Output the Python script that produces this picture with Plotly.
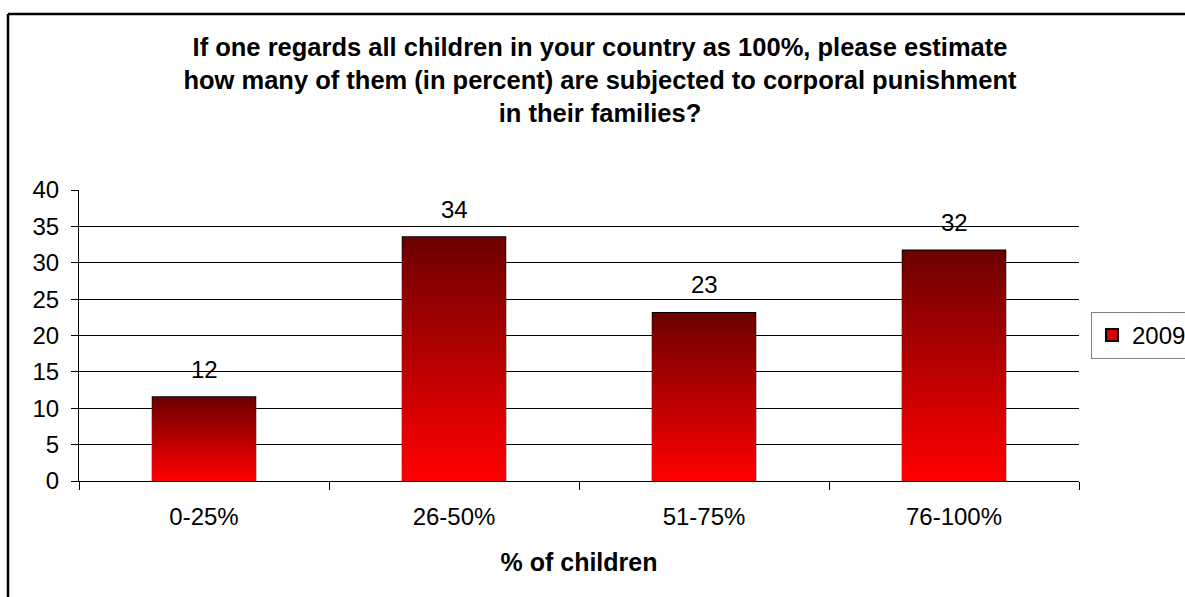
import plotly.graph_objects as go

categories = ["0-25%", "26-50%", "51-75%", "76-100%"]
values = [11.5, 33.5, 23.1, 31.7]
labels = ["12", "34", "23", "32"]
series_name = "2009"

title_text = ("If one regards all children in your country as 100%, please estimate<br>"
              "how many of them (in percent) are subjected to corporal punishment<br>"
              "in their families?")

FONT = "Liberation Sans, Arial, sans-serif"
N = 60
top_rgb = (110, 0, 0)
bot_rgb = (255, 0, 0)

fig = go.Figure()

# outline / legend trace (underneath)
fig.add_trace(go.Bar(
    x=categories, y=values, name=series_name,
    marker=dict(color="#e00000", line=dict(color="black", width=2)),
    width=0.41, hoverinfo="skip", showlegend=True,
))

# gradient layers: full height dark at top, progressively shorter and brighter
for k in range(N):
    t = k / (N - 1)
    r = round(top_rgb[0] + (bot_rgb[0] - top_rgb[0]) * t)
    frac = 1 - k / N
    fig.add_trace(go.Bar(
        x=categories, y=[v * frac for v in values],
        marker=dict(color=f"rgb({r},0,0)", line=dict(width=0)),
        width=0.41, hoverinfo="skip", showlegend=False,
    ))

for c, v, lab in zip(categories, values, labels):
    fig.add_annotation(x=c, y=v, text=lab, showarrow=False, yshift=28,
                       yanchor="middle", font=dict(family=FONT, size=24, color="black"))

fig.update_layout(
    width=1185, height=597,
    barmode="overlay",
    paper_bgcolor="white", plot_bgcolor="white",
    margin=dict(l=79, r=106, t=190, b=116, autoexpand=False),
    font=dict(family=FONT, size=24, color="black"),
    title=dict(text=title_text, x=600 / 1185, xanchor="center", xref="container",
               y=1 - 56 / 597, yref="container", yanchor="middle",
               font=dict(family=FONT, size=25.5, color="black", weight="bold")),
    showlegend=True,
    legend=dict(x=1.012, y=0.5, xanchor="left", yanchor="middle",
                bordercolor="#808080", borderwidth=1, bgcolor="white",
                font=dict(family=FONT, size=24, color="black"),
                itemwidth=30),
    xaxis=dict(type="category", showline=True, linecolor="black", linewidth=1,
               ticks="outside", ticklen=8, tickcolor="black", tickson="boundaries",
               showgrid=False, tickfont=dict(size=24), ticklabelstandoff=14,
               title=dict(text="% of children", standoff=24,
                          font=dict(family=FONT, size=25, weight="bold"))),
    yaxis=dict(range=[0, 40], dtick=5, showline=True, linecolor="black", linewidth=1,
               ticks="outside", ticklen=7, tickcolor="black",
               showgrid=True, gridcolor="black", gridwidth=1,
               tickfont=dict(size=24), zeroline=False, ticklabelstandoff=7),
)

# outer chart border
fig.add_shape(type="line", xref="x domain", yref="y domain",
              x0=-71/1000, x1=-71/1000, y0=-2, y1=(481-14)/291, line=dict(color="black", width=2.5))
fig.add_shape(type="line", xref="x domain", yref="y domain",
              x0=-71/1000, x1=1.2, y0=(481-14)/291, y1=(481-14)/291, line=dict(color="black", width=2.5))

fig.write_html("out.html", config={"displayModeBar": False},
               post_script="document.body.style.margin='0';document.body.style.overflow='hidden';")
